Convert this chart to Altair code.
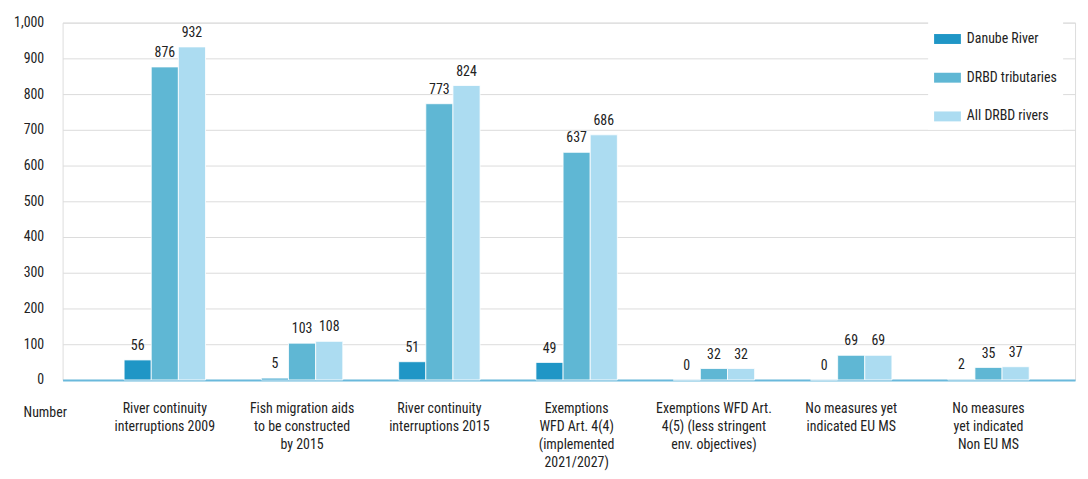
import altair as alt
import pandas as pd

categories = [
    "River continuity|interruptions 2009",
    "Fish migration aids|to be constructed|by 2015",
    "River continuity|interruptions 2015",
    "Exemptions|WFD Art. 4(4)|(implemented|2021/2027)",
    "Exemptions WFD Art.|4(5) (less stringent|env. objectives)",
    "No measures yet|indicated EU MS",
    "No measures|yet indicated|Non EU MS",
]
series = ["Danube River", "DRBD tributaries", "All DRBD rivers"]
danube = [56, 5, 51, 49, 0, 0, 2]
tributaries = [876, 103, 773, 637, 32, 69, 35]
all_rivers = [932, 108, 824, 686, 32, 69, 37]
colors = ["#1f96c6", "#5fb7d4", "#acdcf1"]
y_ticks = [0, 100, 200, 300, 400, 500, 600, 700, 800, 900, 1000]

rows = []
for i, c in enumerate(categories):
    for s, vals in zip(series, [danube, tributaries, all_rivers]):
        rows.append({"category": c, "series": s, "value": vals[i]})
df = pd.DataFrame(rows)

FONT = "'Roboto Condensed', 'DejaVu Sans Condensed', 'Liberation Sans Narrow', Roboto, sans-serif"

x = alt.X(
    "category:N",
    sort=categories,
    scale=alt.Scale(paddingInner=0.407, paddingOuter=0.391, align=0.573),
    axis=alt.Axis(
        title="Number",
        titleX=-18,
        titleY=26,
        titleAlign="center",
        titleFont=FONT,
        titleFontSize=14,
        titleFontWeight="normal",
        titleColor="#222222",
        labelExpr="split(datum.label, '|')",
        labelAngle=0,
        labelFont=FONT,
        labelFontSize=14,
        labelColor="#222222",
        labelLineHeight=18,
        labelPadding=22,
        labelBaseline="top",
        ticks=False,
        domain=True,
        domainColor="#6ab9dc",
        domainWidth=2,
        labelLimit=0,
    ),
)
xoff = alt.XOffset("series:N", sort=series)
y = alt.Y(
    "value:Q",
    scale=alt.Scale(domain=[0, 1000]),
    axis=alt.Axis(
        title=None,
        values=y_ticks,
        tickCount=11,
        format=",.0f",
        labelOverlap=False,
        ticks=False,
        domain=False,
        grid=True,
        labelFont=FONT,
        labelFontSize=14,
        labelColor="#222222",
        labelPadding=19,
        gridColor="#dcdcdc",
        gridWidth=1,
    ),
)

bars = alt.Chart(df).mark_bar(stroke="white", strokeWidth=0.8).encode(
    x=x,
    xOffset=xoff,
    y=y,
    color=alt.Color(
        "series:N",
        sort=series,
        scale=alt.Scale(domain=series, range=colors),
        legend=alt.Legend(
            title=None,
            orient="none",
            legendX=872,
            legendY=-3,
            symbolType="M-1,-0.37H1V0.37H-1Z",
            symbolSize=729,
            symbolStrokeWidth=0,
            symbolOpacity=1,
            labelFont=FONT,
            labelFontSize=14,
            labelColor="#222222",
            rowPadding=18,
            labelOffset=6,
            fillColor="white",
            padding=6,
        ),
    ),
)

labels = alt.Chart(df).mark_text(
    dy=-7, baseline="bottom", font=FONT, fontSize=14, color="#222222"
).encode(
    x=x,
    xOffset=xoff,
    y=y,
    text="value:Q",
)

chart = (
    alt.layer(bars, labels)
    .properties(
        width=1020,
        height=360,
        autosize=alt.AutoSizeParams(type="none"),
        padding={"left": 55, "top": 13, "right": 5, "bottom": 90},
    )
    .configure_view(stroke=None)
    .configure(background="white")
)

chart.save("out.html", embed_options={"renderer": "svg", "actions": False})
